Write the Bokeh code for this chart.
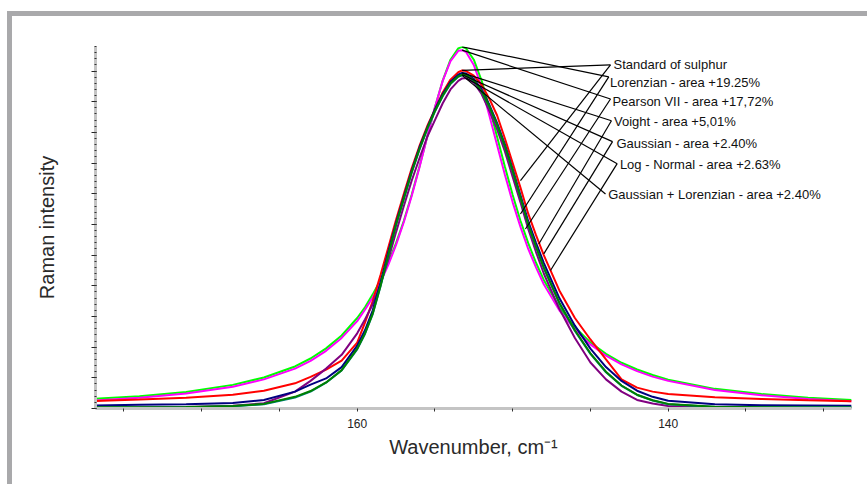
from bokeh.plotting import figure
from bokeh.layouts import column, row
from bokeh.models import ColumnDataSource, FixedTicker, Range1d, Div, Spacer
from bokeh.core.properties import value
from bokeh.embed import file_html
from bokeh.resources import INLINE

# Wavenumber grid (cm-1) of the Raman band
wavenumber = [177, 174, 171, 168, 166, 164, 163, 162, 161, 160,
              159.5, 159, 158.5, 158, 157.5, 157, 156.5, 156, 155.5, 155,
              154.5, 154, 153.5, 153.25, 153, 152.5, 152, 151.5, 151, 150.5,
              150, 149.5, 149, 148.5, 148, 147, 146, 145, 144, 143,
              142, 141, 140, 137, 134, 131, 128.2]

# Measured band and fitted profiles (arbitrary intensity units)
standard_sulphur = [0.24, 0.29, 0.35, 0.45, 0.58, 0.82, 1.03, 1.27, 1.56, 2.15,
                    2.80, 3.50, 4.35, 5.25, 6.15, 7.00, 7.82, 8.55, 9.20, 9.75,
                    10.30, 10.72, 10.96, 11.02, 11.00, 10.85, 10.55, 10.10, 9.55, 8.80,
                    8.00, 7.20, 6.35, 5.65, 5.00, 3.85, 2.95, 2.25, 1.60, 0.95,
                    0.68, 0.55, 0.47, 0.37, 0.31, 0.27, 0.24]
lorentzian = [0.31, 0.40, 0.54, 0.77, 1.01, 1.37, 1.63, 1.96, 2.38, 2.95,
              3.30, 3.72, 4.19, 4.75, 5.39, 6.12, 6.96, 7.88, 8.85, 9.81,
              10.69, 11.37, 11.74, 11.79, 11.74, 11.37, 10.69, 9.81, 8.85, 7.88,
              6.96, 6.12, 5.39, 4.75, 4.19, 3.30, 2.65, 2.15, 1.78, 1.49,
              1.27, 1.09, 0.94, 0.64, 0.47, 0.35, 0.28]
pearson_vii = [0.26, 0.35, 0.49, 0.71, 0.95, 1.30, 1.55, 1.88, 2.30, 2.85,
               3.22, 3.62, 4.12, 4.68, 5.33, 6.08, 6.92, 7.85, 8.85, 9.82,
               10.68, 11.32, 11.66, 11.68, 11.62, 11.20, 10.48, 9.55, 8.58, 7.62,
               6.72, 5.92, 5.20, 4.60, 4.05, 3.20, 2.57, 2.09, 1.72, 1.44,
               1.22, 1.04, 0.90, 0.60, 0.43, 0.31, 0.24]
voigt = [0.10, 0.12, 0.14, 0.18, 0.28, 0.55, 0.78, 0.98, 1.35, 2.05,
         2.55, 3.20, 4.10, 5.10, 6.05, 6.90, 7.75, 8.50, 9.15, 9.75,
         10.25, 10.65, 10.88, 10.94, 10.92, 10.75, 10.40, 9.90, 9.30, 8.60,
         7.80, 6.95, 6.10, 5.40, 4.75, 3.60, 2.70, 1.95, 1.35, 0.90,
         0.58, 0.38, 0.25, 0.14, 0.11, 0.10, 0.09]
gaussian = [0.04, 0.04, 0.05, 0.08, 0.15, 0.38, 0.57, 0.85, 1.25, 1.95,
            2.45, 3.10, 4.00, 5.00, 6.00, 6.85, 7.70, 8.45, 9.12, 9.70,
            10.20, 10.60, 10.83, 10.88, 10.87, 10.70, 10.35, 9.85, 9.25, 8.55,
            7.75, 6.88, 6.00, 5.28, 4.60, 3.45, 2.55, 1.80, 1.20, 0.75,
            0.45, 0.27, 0.15, 0.06, 0.04, 0.03, 0.03]
log_normal = [0.02, 0.03, 0.05, 0.09, 0.17, 0.55, 0.90, 1.30, 1.75, 2.45,
              2.90, 3.40, 4.05, 4.85, 5.75, 6.60, 7.42, 8.15, 8.85, 9.40,
              9.95, 10.40, 10.68, 10.76, 10.77, 10.62, 10.25, 9.70, 9.10, 8.38,
              7.55, 6.72, 5.85, 5.10, 4.40, 3.25, 2.30, 1.50, 0.95, 0.55,
              0.28, 0.16, 0.08, 0.03, 0.02, 0.02, 0.02]
gauss_lorentz = [0.03, 0.03, 0.04, 0.07, 0.14, 0.36, 0.55, 0.84, 1.24, 1.93,
                 2.43, 3.08, 3.98, 4.98, 5.98, 6.83, 7.68, 8.43, 9.10, 9.68,
                 10.18, 10.58, 10.81, 10.86, 10.85, 10.68, 10.33, 9.83, 9.23, 8.53,
                 7.73, 6.86, 5.98, 5.26, 4.58, 3.43, 2.53, 1.78, 1.18, 0.74,
                 0.44, 0.26, 0.14, 0.05, 0.04, 0.04, 0.04]

series_labels = ["Standard of sulphur",
                 "Lorenzian - area +19.25%",
                 "Pearson VII - area  +17,72%",
                 "Voight - area +5,01%",
                 "Gaussian - area +2.40%",
                 "Log - Normal - area  +2.63%",
                 "Gaussian + Lorenzian  - area +2.40%"]
series_values = [standard_sulphur, lorentzian, pearson_vii, voigt, gaussian, log_normal, gauss_lorentz]
series_colors = ["#ff0000", "#00ff00", "#ff00ff", "#000080", "#008000", "#800080", "#008080"]

x_ticks = [130, 135, 140, 145, 150, 155, 160, 165, 170, 175]
x_tick_labels = {130: "", 135: "", 140: "140", 145: "", 150: "", 155: "",
                 160: "160", 165: "", 170: "", 175: ""}

# Callout layout: where each label's leaders meet, the text position, and the flank target
callout_anchor_x = [143.71, 143.82, 143.71, 143.65, 143.58, 143.28, 144.03]
callout_anchor_y = [11.20, 10.81, 10.09, 9.38, 8.70, 7.98, 6.99]
callout_text_x = [143.58, 143.80, 143.65, 143.55, 143.39, 143.17, 143.92]
callout_text_y = [11.20, 10.62, 10.01, 9.35, 8.64, 7.95, 6.99]
flank_x = [149.50, 149.50, 149.18, 148.32, 148.00, 147.57]
flank_y = [7.43, 6.34, 5.85, 5.36, 5.04, 4.50]

p = figure(width=855, height=468, output_backend="svg", toolbar_location=None,
           x_range=Range1d(176.83, 128.21), y_range=Range1d(0, 11.8),
           min_border_left=83, min_border_right=16, min_border_top=30, min_border_bottom=76)
p.background_fill_color = "white"
p.border_fill_color = "white"
p.outline_line_color = None
p.xgrid.visible = False
p.ygrid.visible = False

# Profiles
draw_order = [1, 2, 0, 5, 3, 6, 4]
src = ColumnDataSource(dict(x=wavenumber, **{f"s{i}": v for i, v in enumerate(series_values)}))
for i in draw_order:
    p.line("x", f"s{i}", source=src, line_color=series_colors[i], line_width=2)

# Leader lines from each profile's maximum to its label, and from labels onto the flank
x0, y0, x1, y1 = [], [], [], []
for i, vals in enumerate(series_values):
    k = max(range(len(vals)), key=lambda j: vals[j])
    x0.append(wavenumber[k]); y0.append(vals[k])
    x1.append(callout_anchor_x[i]); y1.append(callout_anchor_y[i])
for i in range(len(flank_x)):
    x0.append(callout_anchor_x[i]); y0.append(callout_anchor_y[i])
    x1.append(flank_x[i]); y1.append(flank_y[i])
p.segment(x0=x0, y0=y0, x1=x1, y1=y1, line_color="black", line_width=1.2)

p.text(x=callout_text_x, y=callout_text_y, text=series_labels,
       text_font=value("Liberation Sans"), text_font_size="13px",
       text_color="#111111", text_baseline="middle", text_align="left", x_offset=1)

# Axes
xa = p.xaxis[0]
xa.ticker = FixedTicker(ticks=x_ticks, minor_ticks=[])
xa.major_label_overrides = x_tick_labels
xa.axis_line_color = "#c4c4c4"
xa.axis_line_width = 3
xa.major_tick_out = 3
xa.major_tick_in = 0
xa.major_tick_line_color = "#333333"
xa.major_label_text_font = "Liberation Sans"
xa.major_label_text_font_size = "12px"
xa.major_label_text_color = "#222222"
xa.major_label_standoff = 7
xa.axis_label = "Wavenumber, cm\u207b\u00b9"
xa.axis_label_text_font = "Liberation Sans"
xa.axis_label_text_font_size = "20px"
xa.axis_label_text_font_style = "normal"
xa.axis_label_text_color = "#2a2a2a"
xa.axis_label_standoff = 5

ya = p.yaxis[0]
ya.ticker = FixedTicker(ticks=list(range(12)), minor_ticks=[i / 5 for i in range(60)])
ya.major_label_overrides = {i: "" for i in range(12)}
ya.major_label_text_font_size = "0px"
ya.axis_line_color = "#c4c4c4"
ya.axis_line_width = 3
ya.major_tick_out = 4
ya.major_tick_in = 1
ya.major_tick_line_color = "#222222"
ya.minor_tick_out = 1
ya.minor_tick_in = 1
ya.minor_tick_line_color = "#333333"
ya.axis_label = "Raman intensity"
ya.axis_label_text_font = "Liberation Sans"
ya.axis_label_text_font_size = "20px"
ya.axis_label_text_font_style = "normal"
ya.axis_label_text_color = "#2a2a2a"
ya.axis_label_standoff = 34

# Grey page frame along the top and left edges of the chart
frame_grey = "#a9a9ab"
top_band = Div(text="", width=860, height=5, margin=0,
               styles={"background-color": frame_grey})
left_band = Div(text="", width=5, height=468, margin=0,
                styles={"background-color": frame_grey})
page = column(Spacer(width=867, height=11, margin=0),
              row(Spacer(width=7, height=473, margin=0),
                  column(top_band, row(left_band, p, spacing=0), spacing=0),
                  spacing=0),
              spacing=0)

open("out.html", "w").write(file_html(page, INLINE))
